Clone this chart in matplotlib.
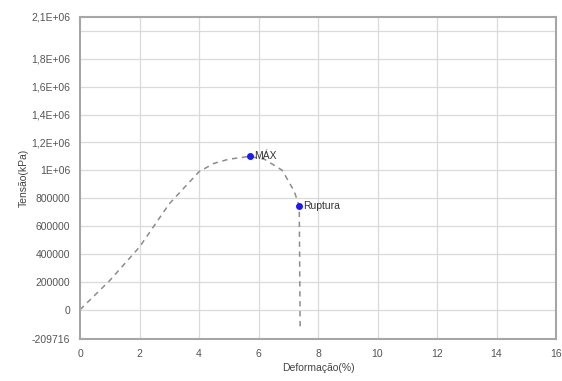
import matplotlib
matplotlib.use("Agg")
from matplotlib import pyplot as plt
import numpy as np

plt.rcParams["font.family"] = ["Liberation Sans", "DejaVu Sans"]

# curva tensão x deformação
deformacao = [0.0, 1.0, 2.0, 3.0, 4.0, 4.5, 5.0, 5.7, 6.2, 6.8, 7.2, 7.37, 7.4]
tensao = [0, 210000, 450000, 760000, 990000, 1050000, 1080000, 1100000,
          1080000, 1000000, 850000, 743000, -150000]

ponto_max = (5.7, 1100000)
ponto_ruptura = (7.37, 743000)

y_ticks = [-209716, 0, 200000, 400000, 600000, 800000, 1000000,
           1200000, 1400000, 1600000, 1800000, 2100000]
y_labels = ["-209716", "0", "200000", "400000", "600000", "800000", "1E+06",
            "1,2E+06", "1,4E+06", "1,6E+06", "1,8E+06", "2,1E+06"]
x_ticks = [0, 2, 4, 6, 8, 10, 12, 14, 16]

fig = plt.figure(figsize=(5.62, 3.81), dpi=100)
ax = fig.add_axes([80 / 562, 42 / 381, 476 / 562, 322 / 381])

# grade (linhas a cada 200000 e a cada 2%)
for gy in np.arange(0, 2000001, 200000):
    ax.axhline(gy, color="#dadada", lw=0.9, zorder=0)
for gx in x_ticks[1:-1]:
    ax.axvline(gx, color="#dadada", lw=0.9, zorder=0)

ax.plot(deformacao, tensao, color="#8c8c8c", lw=1.1, ls=(0, (3.5, 3)), zorder=2)
ax.plot(*ponto_max, "o", color="#1a1aff", ms=4, zorder=3)
ax.plot(*ponto_ruptura, "o", color="#1a1aff", ms=4, zorder=3)
ax.annotate("MÁX", ponto_max, xytext=(3, 0), textcoords="offset points",
            va="center", fontsize=7.5, color="#333333")
ax.annotate("Ruptura", ponto_ruptura, xytext=(3, 0), textcoords="offset points",
            va="center", fontsize=7.5, color="#333333")

ax.set_xlim(0, 16)
ax.set_ylim(-209716, 2100000)
ax.set_xticks(x_ticks)
ax.set_yticks(y_ticks)
ax.set_yticklabels(y_labels)
ax.tick_params(length=0, labelsize=7.5, colors="#555555", pad=7)

for s in ax.spines.values():
    s.set_color("#a6a6a6")
    s.set_linewidth(1.5)

ax.set_xlabel("Deformação(%)", fontsize=7.5, color="#444444", labelpad=3)
ax.set_ylabel("Tensão(kPa)", fontsize=7.5, color="#444444", labelpad=2)

fig.savefig("out.png", dpi=100, facecolor="white")
